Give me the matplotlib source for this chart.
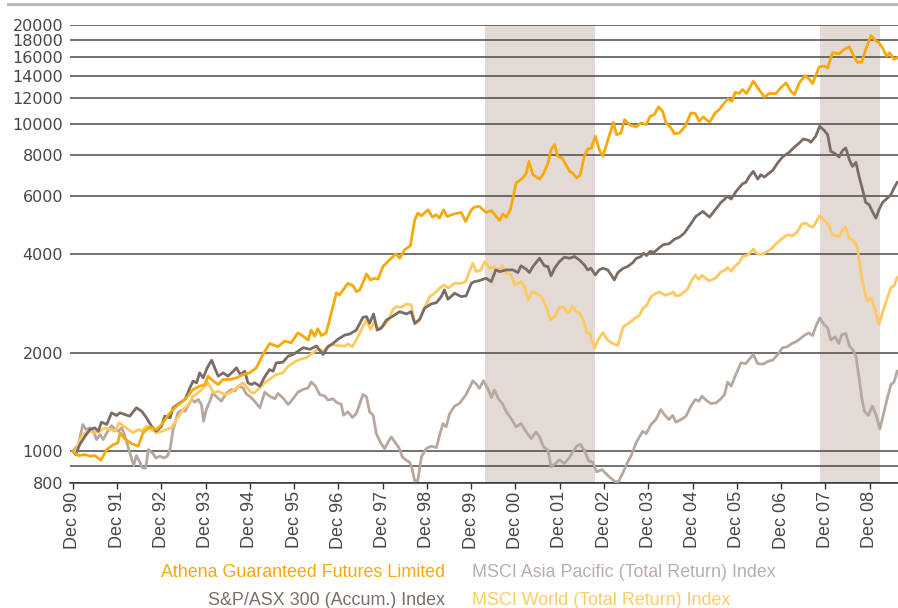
import matplotlib
matplotlib.use("Agg")
import matplotlib.pyplot as plt
from matplotlib.lines import Line2D

plt.rcParams['font.family'] = ['Liberation Sans', 'DejaVu Sans']

# ---------------- data (decimal years, index values) ----------------
athena_t = [1990.92, 1991.04, 1991.19, 1991.30, 1991.41, 1991.55, 1991.68, 1991.83, 1991.93, 1991.98,
            1992.09, 1992.24, 1992.39, 1992.50, 1992.65, 1992.80, 1992.92, 1993.11, 1993.26, 1993.45,
            1993.63, 1993.78, 1993.90, 1993.97, 1994.09, 1994.20, 1994.31, 1994.46, 1994.61, 1994.76,
            1994.91, 1995.06, 1995.21, 1995.36, 1995.55, 1995.70, 1995.85, 1996.00, 1996.12, 1996.23,
            1996.30, 1996.38, 1996.45, 1996.53, 1996.64, 1996.87, 1996.94, 1997.13, 1997.25, 1997.32,
            1997.40, 1997.55, 1997.64, 1997.73, 1997.81, 1997.92, 1998.07, 1998.21, 1998.30, 1998.41,
            1998.54, 1998.64, 1998.71, 1998.79, 1998.94, 1999.04, 1999.13, 1999.20, 1999.29, 1999.37,
            1999.54, 1999.69, 1999.79, 1999.92, 1999.99, 2000.10, 2000.25, 2000.37, 2000.48, 2000.56,
            2000.63, 2000.71, 2000.80, 2000.93, 2001.08, 2001.16, 2001.22, 2001.31, 2001.46, 2001.55,
            2001.65, 2001.72, 2001.80, 2001.87, 2001.97, 2002.14, 2002.21, 2002.30, 2002.38, 2002.47,
            2002.55, 2002.63, 2002.72, 2002.81, 2002.89, 2002.96, 2003.13, 2003.20, 2003.30, 2003.38,
            2003.49, 2003.64, 2003.75, 2003.87, 2003.96, 2004.05, 2004.15, 2004.24, 2004.32, 2004.43,
            2004.51, 2004.62, 2004.75, 2004.88, 2004.98, 2005.07, 2005.16, 2005.30, 2005.43, 2005.52,
            2005.71, 2005.81, 2005.88, 2005.97, 2006.05, 2006.14, 2006.29, 2006.43, 2006.54, 2006.65,
            2006.80, 2006.91, 2007.03, 2007.14, 2007.22, 2007.33, 2007.46, 2007.55, 2007.63, 2007.78,
            2007.89, 2007.97, 2008.08, 2008.23, 2008.34, 2008.46, 2008.57, 2008.64, 2008.74, 2008.83,
            2008.95, 2009.04, 2009.13, 2009.21, 2009.30, 2009.37, 2009.47, 2009.54]
athena_v = [1000, 970, 977, 966, 970, 939, 1012, 1048, 1060, 1138,
            1091, 1055, 1036, 1138, 1187, 1165, 1207, 1310, 1373, 1439,
            1544, 1580, 1598, 1695, 1637, 1598, 1656, 1656, 1675, 1715,
            1735, 1797, 1974, 2132, 2085, 2168, 2144, 2298, 2245, 2183,
            2343, 2245, 2367, 2256, 2298, 3045, 3000, 3256, 3196, 3072,
            3108, 3477, 3333, 3373, 3350, 3662, 3838, 4004, 3884, 4119,
            4236, 5086, 5331, 5232, 5458, 5183, 5269, 5146, 5458, 5207,
            5306, 5356, 5027, 5458, 5562, 5588, 5356, 5433, 5207, 5063,
            5306, 5183, 5458, 6586, 6822, 7067, 7670, 6982, 6774, 7034,
            7581, 8327, 8627, 7946, 7853, 7150, 7067, 6822, 6982, 7946,
            8365, 8425, 9148, 8327, 7946, 8524, 10094, 9256, 9364, 10285,
            9931, 9768, 10047, 9931, 10529, 10654, 11246, 10907, 10047, 9699,
            9321, 9364, 9813, 10780, 10730, 10165, 10481, 10094, 10780, 11035,
            11897, 11704, 12469, 12352, 12706, 12352, 13477, 12647, 12062, 12352,
            12352, 12856, 13316, 12560, 12268, 13316, 14024, 13699, 13254, 14907,
            14977, 14802, 16448, 16335, 16842, 17162, 15993, 15398, 15398, 16842,
            18581, 17979, 17647, 17040, 16067, 16448, 15694, 15880]

asx_t = [1990.92, 1990.98, 1991.07, 1991.19, 1991.30, 1991.41, 1991.49, 1991.56, 1991.68, 1991.79,
         1991.90, 1991.98, 1992.09, 1992.20, 1992.35, 1992.47, 1992.58, 1992.69, 1992.80, 1992.92,
         1992.99, 1993.11, 1993.18, 1993.33, 1993.45, 1993.56, 1993.63, 1993.71, 1993.78, 1993.86,
         1993.95, 1994.05, 1994.12, 1994.20, 1994.31, 1994.42, 1994.54, 1994.61, 1994.70, 1994.80,
         1994.87, 1994.95, 1995.02, 1995.14, 1995.25, 1995.36, 1995.44, 1995.51, 1995.66, 1995.78,
         1995.89, 1996.00, 1996.12, 1996.27, 1996.42, 1996.57, 1996.68, 1996.79, 1996.91, 1997.06,
         1997.17, 1997.32, 1997.47, 1997.55, 1997.62, 1997.71, 1997.79, 1997.88, 1998.00, 1998.15,
         1998.30, 1998.45, 1998.56, 1998.64, 1998.75, 1998.86, 1999.01, 1999.13, 1999.24, 1999.31,
         1999.39, 1999.54, 1999.69, 1999.80, 1999.92, 1999.99, 2000.10, 2000.25, 2000.37, 2000.47,
         2000.56, 2000.71, 2000.86, 2000.97, 2001.04, 2001.16, 2001.23, 2001.31, 2001.46, 2001.57,
         2001.65, 2001.72, 2001.80, 2001.91, 2002.02, 2002.14, 2002.25, 2002.36, 2002.47, 2002.55,
         2002.62, 2002.72, 2002.81, 2002.89, 2003.00, 2003.08, 2003.15, 2003.23, 2003.34, 2003.45,
         2003.57, 2003.64, 2003.75, 2003.81, 2003.88, 2003.96, 2004.05, 2004.17, 2004.26, 2004.39,
         2004.51, 2004.62, 2004.73, 2004.88, 2004.99, 2005.15, 2005.30, 2005.43, 2005.56, 2005.71,
         2005.79, 2005.90, 2006.05, 2006.12, 2006.20, 2006.29, 2006.39, 2006.46, 2006.54, 2006.65,
         2006.73, 2006.84, 2006.95, 2007.10, 2007.22, 2007.33, 2007.42, 2007.54, 2007.59, 2007.70,
         2007.79, 2007.89, 2007.97, 2008.04, 2008.12, 2008.23, 2008.31, 2008.38, 2008.46, 2008.53,
         2008.61, 2008.68, 2008.76, 2008.83, 2008.91, 2008.98, 2009.06, 2009.13, 2009.21, 2009.32,
         2009.40, 2009.47, 2009.54]
asx_v = [1000, 977, 1048, 1111, 1165, 1179, 1151, 1227, 1207, 1310,
         1286, 1310, 1295, 1280, 1357, 1325, 1265, 1193, 1151, 1193,
         1280, 1265, 1357, 1405, 1439, 1562, 1637, 1618, 1735, 1675,
         1797, 1896, 1797, 1695, 1735, 1695, 1755, 1797, 1715, 1755,
         1618, 1598, 1618, 1580, 1688, 1776, 1755, 1861, 1870, 1951,
         1974, 2020, 2070, 2047, 2095, 1974, 2085, 2132, 2200, 2263,
         2279, 2344, 2563, 2575, 2457, 2624, 2344, 2372, 2515, 2587,
         2668, 2624, 2668, 2457, 2527, 2732, 2816, 2842, 2965, 3108,
         2910, 3035, 2965, 2980, 3256, 3294, 3318, 3373, 3294, 3577,
         3535, 3577, 3577, 3511, 3680, 3594, 3511, 3662, 3884, 3680,
         3662, 3429, 3620, 3793, 3911, 3884, 3929, 3838, 3707, 3577,
         3620, 3453, 3577, 3620, 3577, 3453, 3333, 3511, 3611, 3662,
         3766, 3875, 3929, 4023, 3956, 4078, 4050, 4185, 4273, 4300,
         4439, 4502, 4631, 4946, 5207, 5395, 5183, 5458, 5746, 5995,
         5884, 6210, 6555, 6616, 6902, 7150, 6774, 6982, 6869, 7067,
         7200, 7581, 7909, 8173, 8484, 8727, 8979, 8892, 8767, 9148,
         9813, 9541, 9256, 8231, 8135, 7909, 8289, 8425, 7762, 7405,
         7618, 6902, 6284, 5746, 5652, 5395, 5146, 5458, 5746, 5925,
         6066, 6358, 6616]

asia_t = [1990.92, 1991.04, 1991.14, 1991.21, 1991.30, 1991.38, 1991.45, 1991.53, 1991.60, 1991.68,
          1991.79, 1991.87, 1991.94, 1992.02, 1992.09, 1992.17, 1992.24, 1992.29, 1992.35, 1992.43,
          1992.49, 1992.56, 1992.62, 1992.71, 1992.79, 1992.88, 1992.97, 1993.05, 1993.11, 1993.18,
          1993.29, 1993.37, 1993.45, 1993.52, 1993.60, 1993.67, 1993.75, 1993.82, 1993.87, 1993.93,
          1994.01, 1994.08, 1994.16, 1994.27, 1994.39, 1994.50, 1994.57, 1994.65, 1994.76, 1994.84,
          1994.91, 1995.02, 1995.14, 1995.25, 1995.36, 1995.48, 1995.55, 1995.66, 1995.78, 1995.89,
          1996.00, 1996.12, 1996.23, 1996.30, 1996.40, 1996.49, 1996.61, 1996.68, 1996.79, 1996.87,
          1996.98, 1997.03, 1997.13, 1997.23, 1997.32, 1997.40, 1997.47, 1997.55, 1997.62, 1997.70,
          1997.77, 1997.88, 1997.96, 1998.04, 1998.11, 1998.19, 1998.28, 1998.36, 1998.45, 1998.52,
          1998.58, 1998.64, 1998.71, 1998.79, 1998.90, 1999.01, 1999.13, 1999.20, 1999.28, 1999.35,
          1999.43, 1999.54, 1999.65, 1999.79, 1999.89, 1999.95, 2000.03, 2000.10, 2000.19, 2000.29,
          2000.37, 2000.44, 2000.54, 2000.62, 2000.71, 2000.82, 2000.93, 2001.04, 2001.16, 2001.27,
          2001.38, 2001.46, 2001.55, 2001.65, 2001.72, 2001.82, 2001.91, 2002.02, 2002.12, 2002.21,
          2002.30, 2002.38, 2002.47, 2002.57, 2002.66, 2002.75, 2002.87, 2002.96, 2003.08, 2003.18,
          2003.25, 2003.34, 2003.45, 2003.53, 2003.64, 2003.79, 2003.87, 2003.98, 2004.09, 2004.20,
          2004.28, 2004.38, 2004.47, 2004.54, 2004.66, 2004.77, 2004.88, 2004.98, 2005.06, 2005.13,
          2005.22, 2005.33, 2005.45, 2005.56, 2005.64, 2005.71, 2005.79, 2005.88, 2006.01, 2006.12,
          2006.29, 2006.39, 2006.50, 2006.64, 2006.73, 2006.84, 2006.95, 2007.06, 2007.16, 2007.25,
          2007.33, 2007.44, 2007.54, 2007.63, 2007.70, 2007.79, 2007.89, 2007.97, 2008.04, 2008.14,
          2008.22, 2008.29, 2008.38, 2008.47, 2008.53, 2008.61, 2008.68, 2008.74, 2008.80, 2008.89,
          2008.98, 2009.06, 2009.15, 2009.22, 2009.32, 2009.40, 2009.47, 2009.54]
asia_v = [1000, 1048, 1207, 1165, 1179, 1151, 1086, 1124, 1086, 1138,
          1198, 1165, 1151, 1179, 1111, 1024, 954, 904, 970, 925,
          889, 889, 1012, 989, 954, 966, 954, 966, 1012, 1165,
          1310, 1335, 1325, 1379, 1439, 1412, 1439, 1389, 1235, 1341,
          1422, 1508, 1466, 1422, 1508, 1544, 1525, 1580, 1562, 1490,
          1473, 1422, 1357, 1515, 1473, 1446, 1501, 1455, 1389, 1446,
          1515, 1544, 1562, 1626, 1580, 1490, 1473, 1433, 1446, 1412,
          1389, 1288, 1319, 1268, 1304, 1399, 1490, 1466, 1319, 1288,
          1133, 1055, 1019, 1068, 1106, 1068, 1026, 961, 938, 927,
          885, 811, 815, 961, 1019, 1036, 1026, 1119, 1215, 1187,
          1304, 1373, 1399, 1483, 1573, 1641, 1603, 1555, 1641, 1555,
          1459, 1537, 1439, 1399, 1319, 1258, 1187, 1215, 1146, 1093,
          1146, 1106, 1031, 1007, 896, 917, 943, 917, 950, 995,
          1036, 1051, 1007, 934, 927, 865, 879, 855, 825, 806,
          810, 858, 925, 970, 1060, 1151, 1133, 1207, 1250, 1341,
          1295, 1250, 1286, 1227, 1250, 1280, 1373, 1439, 1422, 1473,
          1433, 1399, 1405, 1446, 1490, 1626, 1580, 1695, 1861, 1852,
          1974, 1852, 1843, 1885, 1896, 1974, 2070, 2085, 2132, 2156,
          2195, 2256, 2298, 2256, 2400, 2553, 2436, 2383, 2183, 2234,
          2132, 2271, 2287, 2085, 2047, 1951, 1675, 1455, 1325, 1286,
          1373, 1295, 1170, 1280, 1455, 1598, 1626, 1755]

world_t = [1990.92, 1991.00, 1991.07, 1991.19, 1991.30, 1991.41, 1991.53, 1991.64, 1991.75, 1991.87,
           1991.96, 1992.05, 1992.17, 1992.28, 1992.39, 1992.47, 1992.58, 1992.69, 1992.80, 1992.92,
           1993.03, 1993.14, 1993.26, 1993.41, 1993.56, 1993.63, 1993.75, 1993.86, 1993.97, 1994.09,
           1994.20, 1994.35, 1994.46, 1994.61, 1994.76, 1994.95, 1995.02, 1995.14, 1995.25, 1995.36,
           1995.51, 1995.66, 1995.78, 1995.89, 1996.04, 1996.19, 1996.34, 1996.45, 1996.57, 1996.68,
           1996.79, 1996.91, 1997.06, 1997.13, 1997.23, 1997.32, 1997.43, 1997.55, 1997.64, 1997.73,
           1997.81, 1997.92, 1998.04, 1998.15, 1998.22, 1998.34, 1998.45, 1998.56, 1998.64, 1998.75,
           1998.86, 1998.98, 1999.09, 1999.20, 1999.31, 1999.39, 1999.54, 1999.69, 1999.79, 1999.86,
           1999.95, 2000.03, 2000.14, 2000.22, 2000.33, 2000.41, 2000.52, 2000.62, 2000.71, 2000.82,
           2000.89, 2001.04, 2001.12, 2001.20, 2001.29, 2001.38, 2001.50, 2001.61, 2001.70, 2001.80,
           2001.90, 2001.99, 2002.10, 2002.20, 2002.29, 2002.36, 2002.44, 2002.53, 2002.60, 2002.70,
           2002.78, 2002.89, 2003.00, 2003.11, 2003.23, 2003.35, 2003.49, 2003.60, 2003.72, 2003.79,
           2003.88, 2003.98, 2004.09, 2004.17, 2004.30, 2004.43, 2004.48, 2004.54, 2004.63, 2004.73,
           2004.81, 2004.90, 2004.98, 2005.06, 2005.13, 2005.22, 2005.30, 2005.37, 2005.45, 2005.56,
           2005.66, 2005.71, 2005.79, 2005.88, 2005.97, 2006.05, 2006.16, 2006.29, 2006.39, 2006.50,
           2006.59, 2006.69, 2006.76, 2006.84, 2006.95, 2007.06, 2007.18, 2007.29, 2007.39, 2007.48,
           2007.55, 2007.64, 2007.79, 2007.89, 2007.99, 2008.07, 2008.16, 2008.23, 2008.31, 2008.38,
           2008.46, 2008.57, 2008.64, 2008.68, 2008.72, 2008.80, 2008.87, 2008.95, 2009.02, 2009.13,
           2009.21, 2009.32, 2009.40, 2009.47, 2009.54]
world_v = [1000, 1012, 1086, 1138, 1151, 1138, 1151, 1179, 1165, 1151,
           1221, 1198, 1165, 1138, 1165, 1151, 1193, 1165, 1138, 1151,
           1165, 1179, 1250, 1341, 1405, 1473, 1508, 1562, 1618, 1508,
           1525, 1490, 1508, 1562, 1618, 1508, 1508, 1562, 1618, 1656,
           1715, 1735, 1818, 1861, 1907, 1928, 2000, 2047, 2020, 2095,
           2117, 2100, 2095, 2125, 2085, 2185, 2344, 2515, 2356, 2486,
           2372, 2400, 2503, 2712, 2763, 2750, 2816, 2797, 2445, 2515,
           2732, 2965, 3035, 3145, 3218, 3145, 3256, 3256, 3294, 3494,
           3749, 3535, 3577, 3793, 3620, 3645, 3577, 3680, 3494, 3453,
           3218, 3294, 3181, 2896, 3072, 3035, 2965, 2763, 2515, 2575,
           2732, 2763, 2636, 2763, 2668, 2650, 2527, 2301, 2290, 2061,
           2185, 2301, 2185, 2135, 2104, 2400, 2469, 2539, 2600, 2725,
           2790, 2965, 3035, 3063, 2992, 3035, 3063, 2979, 2992, 3063,
           3137, 3333, 3445, 3348, 3445, 3365, 3311, 3348, 3389, 3527,
           3577, 3637, 3544, 3680, 3766, 3929, 3967, 4138, 3994, 3994,
           4061, 4138, 4236, 4337, 4471, 4577, 4545, 4685, 4946, 4969,
           4876, 4831, 5232, 5063, 4910, 4577, 4545, 4524, 4741, 4831,
           4471, 4368, 4216, 3856, 3511, 3086, 2876, 2938, 2776, 2436,
           2649, 2938, 3159, 3194, 3389]

# shaded periods (start, end) in decimal years
shade_start = [2000.22, 2007.80]
shade_end = [2002.72, 2009.15]

tick_years = [1990, 1991, 1992, 1993, 1994, 1995, 1996, 1997, 1998, 1999,
              2000, 2001, 2002, 2003, 2004, 2005, 2006, 2007, 2008]
tick_labels = ['Dec 90', 'Dec 91', 'Dec 92', 'Dec 93', 'Dec 94', 'Dec 95', 'Dec 96',
               'Dec 97', 'Dec 98', 'Dec 99', 'Dec 00', 'Dec 01', 'Dec 02', 'Dec 03',
               'Dec 04', 'Dec 05', 'Dec 06', 'Dec 07', 'Dec 08']
y_ticks = [800, 900, 1000, 2000, 4000, 6000, 8000, 10000, 12000, 14000, 16000, 18000, 20000]
y_labels = ['800', '', '1000', '2000', '4000', '6000', '8000', '10000', '12000',
            '14000', '16000', '18000', '20000']

names = ['Athena Guaranteed Futures Limited', 'MSCI Asia Pacific (Total Return) Index',
         'S&P/ASX 300 (Accum.) Index', 'MSCI World (Total Return) Index']

# ---------------- styling ----------------
c_athena = '#F7A90C'
c_asx = '#7B6D65'
c_asia = '#B6A79F'
c_world = '#FFC95F'
c_shade = '#E3DAD6'
c_grid = '#4a4a4a'
c_text = '#474747'

W, H = 898, 608
fig = plt.figure(figsize=(W / 100, H / 100), dpi=100)
ax = fig.add_axes([70 / W, 1 - 483 / H, (W - 70) / W, (483 - 25) / H])

ax.set_yscale('log')
ax.set_ylim(800, 20000)
ax.set_xlim(1990.85, 2009.56)

for s, e in zip(shade_start, shade_end):
    ax.axvspan(s, e, color=c_shade, lw=0, zorder=0)

ax.set_yticks(y_ticks)
ax.set_yticklabels(y_labels, family=['DejaVu Sans'])
ax.yaxis.set_minor_locator(matplotlib.ticker.NullLocator())
ax.set_xticks([y + 11 / 12 for y in tick_years])
ax.set_xticklabels(tick_labels, rotation=90)

ax.grid(axis='y', color=c_grid, lw=1.1, zorder=1)
ax.grid(axis='x', visible=False)
ax.set_axisbelow(True)

ax.plot(asia_t, asia_v, color=c_asia, lw=2.0, zorder=3, solid_joinstyle='round')
ax.plot(world_t, world_v, color=c_world, lw=2.0, zorder=4, solid_joinstyle='round')
ax.plot(asx_t, asx_v, color=c_asx, lw=2.0, zorder=5, solid_joinstyle='round')
ax.plot(athena_t, athena_v, color=c_athena, lw=2.0, zorder=6, solid_joinstyle='round')

for side in ['left', 'right', 'top']:
    ax.spines[side].set_visible(False)
ax.spines['bottom'].set_color('#333333')
ax.spines['bottom'].set_linewidth(1.1)

ax.tick_params(axis='y', length=0, pad=5, labelsize=11.5, labelcolor=c_text)
ax.tick_params(axis='x', direction='out', length=4, width=1, color='#333333',
               pad=2, labelsize=13, labelcolor=c_text)

# decorative rule at top
fig.add_artist(Line2D([8 / W, 1.0], [1 - 4 / H, 1 - 4 / H], color='#C2B9B5', lw=2.2))

# legend as coloured text
fs = 12.9
fig.text(445 / W, 1 - 577 / H, names[0], color='#F7A90C', fontsize=fs, ha='right', va='baseline')
fig.text(472 / W, 1 - 577 / H, names[1], color='#B8AFAA', fontsize=fs, ha='left', va='baseline')
fig.text(445 / W, 1 - 605 / H, names[2], color='#7B6F69', fontsize=fs, ha='right', va='baseline')
fig.text(472 / W, 1 - 605 / H, names[3], color='#FFCB66', fontsize=fs, ha='left', va='baseline')

fig.savefig('out.png', dpi=100)
